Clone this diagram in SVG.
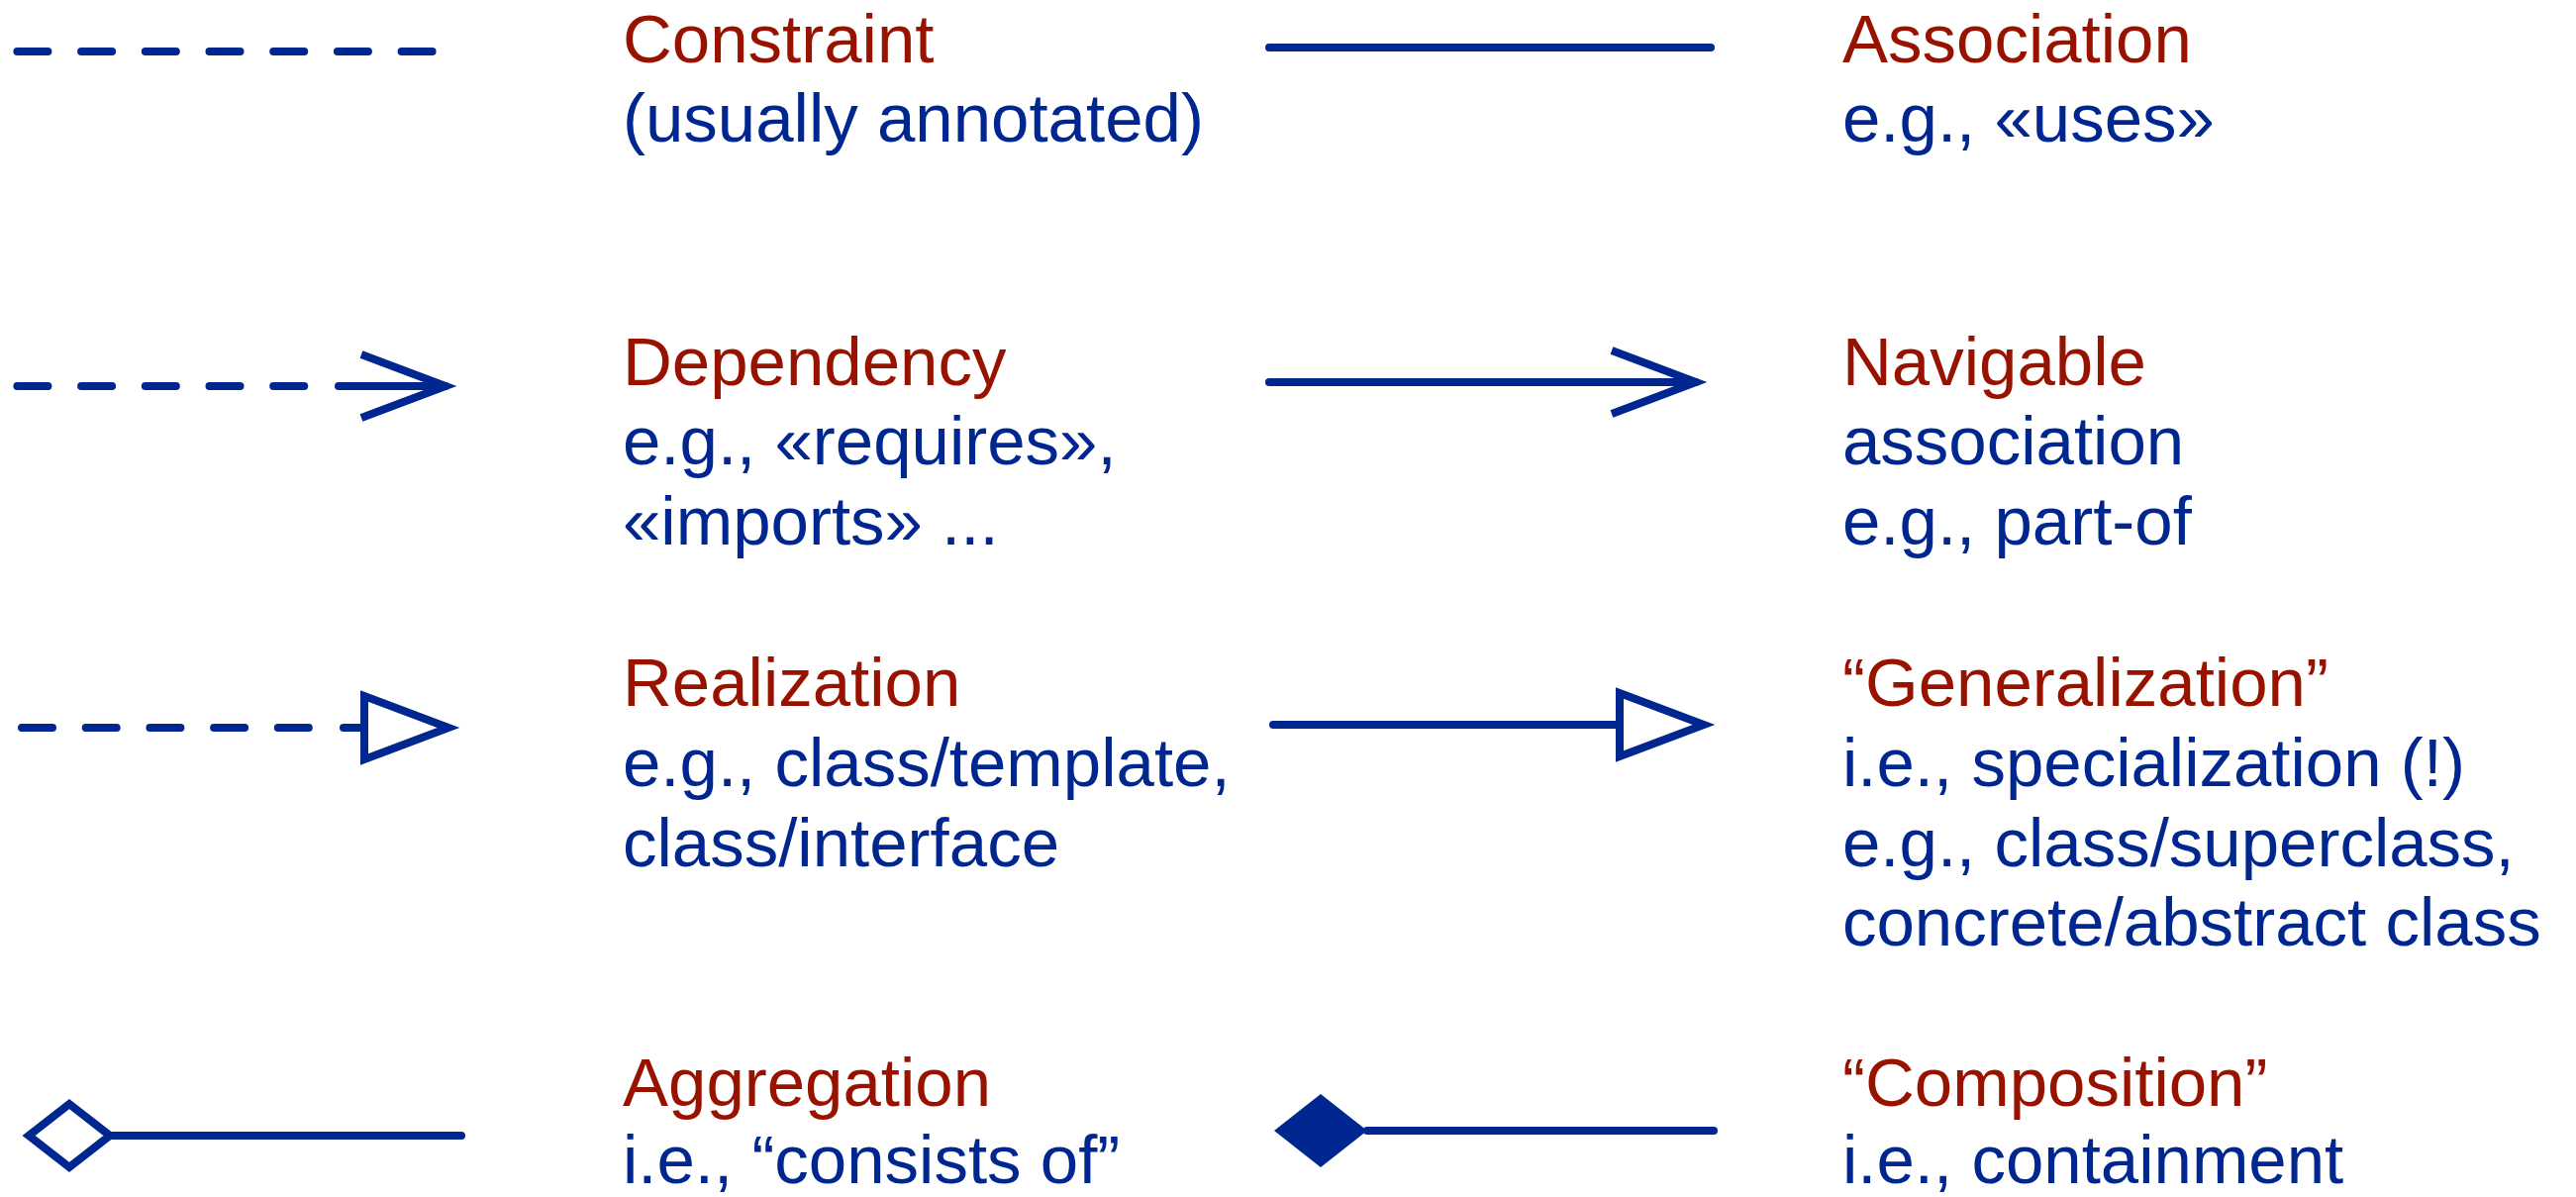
<svg xmlns="http://www.w3.org/2000/svg" width="2602" height="1209" viewBox="0 0 2602 1209">
  <style>
    .ln { fill: none; stroke: #00268F; stroke-width: 8; stroke-linecap: round; }
    .dash { stroke-dasharray: 31 33.7; }
    .title { font-family: "Liberation Sans", Arial, Helvetica, sans-serif; font-size: 69px; fill: #981200; }
    .desc { font-family: "Liberation Sans", Arial, Helvetica, sans-serif; font-size: 69px; fill: #00268F; }
  </style>
  <defs>
    <!-- open (stick) arrowhead, reference point at the tip -->
    <marker id="open-arrow" markerUnits="userSpaceOnUse" markerWidth="140" markerHeight="100" viewBox="-110 -50 140 100" refX="0" refY="0" orient="auto" overflow="visible">
      <path d="M-85,-32 L0,0 L-85,32" fill="none" stroke="#00268F" stroke-width="8" stroke-linejoin="miter" stroke-miterlimit="10"/>
    </marker>
    <!-- hollow triangle, reference point at the middle of its base -->
    <marker id="hollow-triangle" markerUnits="userSpaceOnUse" markerWidth="140" markerHeight="100" viewBox="-20 -50 140 100" refX="0" refY="0" orient="auto" overflow="visible">
      <path d="M0,-32 L85,0 L0,32 Z" fill="#fff" stroke="#00268F" stroke-width="8" stroke-linejoin="miter" stroke-miterlimit="10"/>
    </marker>
    <!-- open diamond, reference point at its right vertex -->
    <marker id="open-diamond" markerUnits="userSpaceOnUse" markerWidth="120" markerHeight="100" viewBox="-100 -50 120 100" refX="0" refY="0" orient="auto" overflow="visible">
      <path d="M0,0 L-41,-32 L-82,0 L-41,32 Z" fill="#fff" stroke="#00268F" stroke-width="8" stroke-linejoin="miter" stroke-miterlimit="10"/>
    </marker>
    <!-- filled diamond, reference point at its right vertex -->
    <marker id="filled-diamond" markerUnits="userSpaceOnUse" markerWidth="120" markerHeight="100" viewBox="-110 -50 120 100" refX="0" refY="0" orient="auto" overflow="visible">
      <path d="M0,0 L-47,-37 L-94,0 L-47,37 Z" fill="#00268F"/>
    </marker>
  </defs>

  <rect width="2602" height="1209" fill="#fff"/>

  <!-- sample connectors -->
  <g id="connectors">
    <g id="conn-constraint">
      <path class="ln dash" d="M17.4,52 H437"/>
    </g>
    <g id="conn-association">
      <path class="ln" d="M1282,48 H1728"/>
    </g>
    <g id="conn-dependency">
      <path class="ln dash" d="M17.4,390 H308"/>
      <path class="ln" d="M342,390 H450" marker-end="url(#open-arrow)"/>
    </g>
    <g id="conn-navigable">
      <path class="ln" d="M1282,386 H1713" marker-end="url(#open-arrow)"/>
    </g>
    <g id="conn-realization">
      <path class="ln dash" d="M22,735 H312"/>
      <path class="ln" d="M347,735 H368" marker-end="url(#hollow-triangle)"/>
    </g>
    <g id="conn-generalization">
      <path class="ln" d="M1286,732 H1636" marker-end="url(#hollow-triangle)"/>
    </g>
    <g id="conn-aggregation">
      <path class="ln" d="M111,1147 H466" marker-start="url(#open-diamond)"/>
    </g>
    <g id="conn-composition">
      <path class="ln" d="M1381,1142 H1731" marker-start="url(#filled-diamond)"/>
    </g>
  </g>

  <!-- labels -->
  <g id="constraint">
    <text class="title" x="629" y="63">Constraint</text>
    <text class="desc" x="629" y="143">(usually annotated)</text>
  </g>
  <g id="association">
    <text class="title" x="1861" y="63">Association</text>
    <text class="desc" x="1861" y="143">e.g., «uses»</text>
  </g>
  <g id="dependency">
    <text class="title" x="629" y="389">Dependency</text>
    <text class="desc" x="629" y="469">e.g., «requires»,</text>
    <text class="desc" x="629" y="550">«imports» ...</text>
  </g>
  <g id="navigable">
    <text class="title" x="1861" y="389">Navigable</text>
    <text class="desc" x="1861" y="469">association</text>
    <text class="desc" x="1861" y="550">e.g., part-of</text>
  </g>
  <g id="realization">
    <text class="title" x="629" y="713">Realization</text>
    <text class="desc" x="629" y="794">e.g., class/template,</text>
    <text class="desc" x="629" y="875">class/interface</text>
  </g>
  <g id="generalization">
    <text class="title" x="1861" y="713">“Generalization”</text>
    <text class="desc" x="1861" y="794">i.e., specialization (!)</text>
    <text class="desc" x="1861" y="875">e.g., class/superclass,</text>
    <text class="desc" x="1861" y="955">concrete/abstract class</text>
  </g>
  <g id="aggregation">
    <text class="title" x="629" y="1117">Aggregation</text>
    <text class="desc" x="629" y="1195">i.e., “consists of”</text>
  </g>
  <g id="composition">
    <text class="title" x="1861" y="1117">“Composition”</text>
    <text class="desc" x="1861" y="1195">i.e., containment</text>
  </g>
</svg>
